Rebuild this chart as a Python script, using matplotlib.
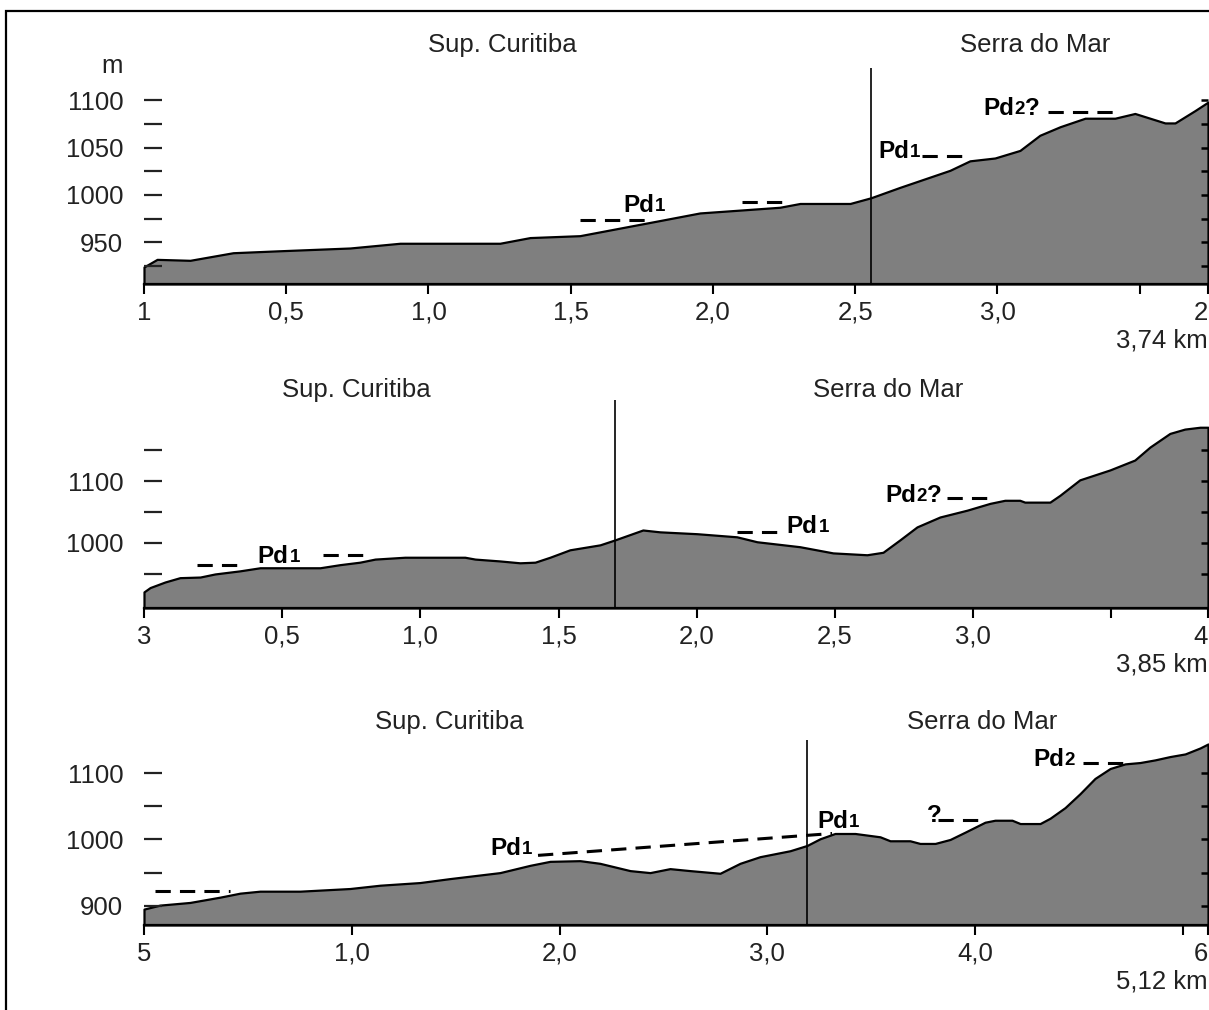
import matplotlib
matplotlib.use("Agg")
import matplotlib.pyplot as plt
from matplotlib.patches import Rectangle

plt.rcParams['font.family'] = ['Liberation Sans', 'DejaVu Sans']

# ---- profile 1 (3,74 km) ----
km1 = [0.000, 0.046, 0.162, 0.313, 0.471, 0.724, 0.900, 1.251, 1.357, 1.532,
       1.673, 1.814, 1.954, 2.095, 2.235, 2.306, 2.482, 2.555, 2.657, 2.833,
       2.903, 2.991, 3.079, 3.149, 3.220, 3.308, 3.413, 3.483, 3.536, 3.589,
       3.624, 3.694, 3.740]
elev1 = [924, 932, 931, 939, 941, 944, 949, 949, 955, 957,
         965, 973, 981, 984, 987, 991, 991, 997, 1008, 1026,
         1036, 1039, 1047, 1063, 1072, 1081, 1081, 1086, 1081, 1076,
         1076, 1089, 1098]

# ---- profile 2 (3,85 km) ----
km2 = [0.000, 0.022, 0.076, 0.130, 0.203, 0.257, 0.347, 0.420, 0.637, 0.709,
       0.781, 0.836, 0.944, 1.161, 1.198, 1.288, 1.360, 1.415, 1.469, 1.541,
       1.650, 1.704, 1.805, 1.867, 2.001, 2.145, 2.218, 2.373, 2.493, 2.616,
       2.674, 2.735, 2.797, 2.880, 2.978, 3.061, 3.115, 3.169, 3.187, 3.278,
       3.314, 3.386, 3.495, 3.585, 3.640, 3.712, 3.766, 3.821, 3.850]
elev2 = [921, 928, 937, 944, 945, 950, 955, 960, 960, 965,
         969, 974, 977, 977, 974, 971, 968, 969, 977, 989,
         997, 1005, 1021, 1018, 1015, 1010, 1002, 994, 984, 981,
         985, 1005, 1026, 1042, 1053, 1064, 1069, 1069, 1066, 1066,
         1077, 1102, 1118, 1134, 1155, 1177, 1184, 1187, 1187]

# ---- profile 3 (5,12 km) ----
km3 = [0.000, 0.077, 0.221, 0.366, 0.462, 0.558, 0.751, 0.991, 1.136, 1.328,
       1.473, 1.713, 1.858, 1.954, 2.098, 2.194, 2.339, 2.435, 2.531, 2.628,
       2.772, 2.868, 2.964, 3.109, 3.191, 3.253, 3.325, 3.422, 3.542, 3.590,
       3.686, 3.734, 3.807, 3.879, 3.951, 4.047, 4.095, 4.177, 4.216, 4.312,
       4.360, 4.432, 4.504, 4.576, 4.649, 4.721, 4.793, 4.865, 4.937, 5.010,
       5.082, 5.120]
elev3 = [895, 901, 905, 913, 919, 922, 922, 926, 931, 935,
         941, 950, 961, 967, 968, 964, 953, 950, 956, 953,
         949, 964, 974, 983, 991, 1001, 1009, 1009, 1004, 998,
         998, 994, 994, 1000, 1011, 1026, 1029, 1029, 1024, 1024,
         1032, 1048, 1069, 1092, 1107, 1114, 1116, 1120, 1125, 1129,
         1138, 1144]

# axis ranges
ylim1 = (906, 1134)
ylim2 = (895, 1231)
ylim3 = (871, 1150)
length1, length2, length3 = 3.74, 3.85, 5.12
total1, total2, total3 = "3,74 km", "3,85 km", "5,12 km"

# x ticks and labels
xt1 = [0, 0.5, 1.0, 1.5, 2.0, 2.5, 3.0, 3.5, 3.74]
xl1 = ["1", "0,5", "1,0", "1,5", "2,0", "2,5", "3,0", "", "2"]
xt2 = [0, 0.5, 1.0, 1.5, 2.0, 2.5, 3.0, 3.5, 3.85]
xl2 = ["3", "0,5", "1,0", "1,5", "2,0", "2,5", "3,0", "", "4"]
xt3 = [0, 1, 2, 3, 4, 5, 5.12]
xl3 = ["5", "1,0", "2,0", "3,0", "4,0", "", "6"]

# y ticks and labels
yt1 = [925, 950, 975, 1000, 1025, 1050, 1075, 1100]
yl1 = ["", "950", "", "1000", "", "1050", "", "1100"]
yt2 = [950, 1000, 1050, 1100, 1150]
yl2 = ["", "1000", "", "1100", ""]
yt3 = [900, 950, 1000, 1050, 1100]
yl3 = ["900", "", "1000", "", "1100"]

# boundary between Sup. Curitiba and Serra do Mar (km)
limit1, limit2, limit3 = 2.555, 1.704, 3.191

# region names: (x centre km, name)
regions1 = [(1.258, "Sup. Curitiba"), (3.132, "Serra do Mar")]
regions2 = [(0.768, "Sup. Curitiba"), (2.692, "Serra do Mar")]
regions3 = [(1.468, "Sup. Curitiba"), (4.033, "Serra do Mar")]

# planation surface levels: (x0, x1, y0, y1)
levels1 = [(1.532, 1.786, 973.6, 973.6), (2.102, 2.271, 992.6, 992.6),
           (2.735, 2.875, 1041, 1041), (3.178, 3.431, 1088, 1088)]
levels2 = [(0.192, 0.347, 964.5, 964.5), (0.648, 0.807, 980.6, 980.6),
           (2.145, 2.301, 1017.7, 1017.7), (2.905, 3.061, 1072.6, 1072.6)]
levels3 = [(0.053, 0.414, 921.8, 921.8), (1.896, 3.311, 976, 1009),
           (3.821, 4.033, 1028.6, 1028.6), (4.519, 4.711, 1115.8, 1115.8)]

# level labels: (x km, baseline m, text, index, suffix)
tags1 = [(1.684, 982, "Pd", "1", ""), (2.58, 1039, "Pd", "1", ""),
         (2.95, 1084, "Pd", "2", "?")]
tags2 = [(0.412, 968, "Pd", "1", ""), (2.326, 1016, "Pd", "1", ""),
         (2.681, 1066, "Pd", "2", "?")]
tags3 = [(1.665, 976, "Pd", "1", ""), (3.239, 1017, "Pd", "1", ""),
         (3.768, 1026, "?", "", ""), (4.278, 1111, "Pd", "2", "")]

W, H = 1209, 1010
FS = 18.5


def pd_label(ax, x, y, main, num, tail):
    t = ax.text(x, y, main, fontsize=17.5, fontweight='bold', va='baseline', ha='left')
    if num:
        t = ax.annotate(num, xy=(1, 0), xycoords=t, xytext=(0.5, 1.5),
                        textcoords='offset points', fontsize=13.5,
                        fontweight='bold', va='bottom', ha='left')
    if tail:
        ax.annotate(tail, xy=(1, 0), xycoords=t, xytext=(0, -1.5),
                    textcoords='offset points', fontsize=17.5,
                    fontweight='bold', va='bottom', ha='left')


def panel(fig, rect, km, elev, ylim, length, total, xt, xl, yt, yl,
          limit, regions, levels, tags, title_y, unit=False):
    ax = fig.add_axes(rect)
    ax.set_xlim(0, length)
    ax.set_ylim(*ylim)
    ax.fill_between(km, elev, ylim[0], facecolor='#7f7f7f', edgecolor='black',
                    linewidth=1.6, clip_on=False, zorder=1)
    ax.axvline(limit, color='black', linewidth=1.2, zorder=2)
    for x0, x1, y0, y1 in levels:
        ax.plot([x0, x1], [y0, y1], color='black', linewidth=2.2,
                linestyle=(0, (5, 3)), solid_capstyle='butt', zorder=3)
    for x, y, main, num, tail in tags:
        pd_label(ax, x, y, main, num, tail)
    for x, name in regions:
        ax.text(x, title_y, name, transform=ax.get_xaxis_transform(),
                fontsize=FS, ha='center', va='baseline', color='#222222')

    for s in ax.spines.values():
        s.set_visible(False)
    ax.spines['bottom'].set_visible(True)
    ax.spines['bottom'].set_linewidth(1.6)

    ax.set_xticks(xt)
    ax.set_xticklabels(xl)
    ax.get_xticklabels()[-1].set_horizontalalignment('right')
    ax.tick_params(axis='x', direction='out', length=7, width=1.5,
                   labelsize=FS, pad=5, labelcolor='#222222')
    ax.set_yticks(yt)
    ax.set_yticklabels(yl)
    ax.tick_params(axis='y', direction='in', length=13, width=1.6,
                   labelsize=FS, pad=15, labelcolor='#222222', color='#222222')

    axr = ax.twinx()
    axr.set_ylim(*ylim)
    axr.set_yticks(yt)
    axr.set_yticklabels([])
    axr.tick_params(axis='y', direction='in', length=5, width=1.8, color='black')
    for s in axr.spines.values():
        s.set_visible(False)

    ax.annotate(total, xy=(1, 0), xycoords='axes fraction', xytext=(0, -46),
                textcoords='offset points', ha='right', va='baseline',
                fontsize=FS, color='#222222')
    if unit:
        ax.text(-0.02, 0.977, "m", transform=ax.transAxes, ha='right',
                va='baseline', fontsize=FS, color='#222222')
    return ax


fig = plt.figure(figsize=(W / 100, H / 100), dpi=100)
left, width = 144 / W, 1064 / W

panel(fig, [left, 1 - 284 / H, width, 216 / H], km1, elev1, ylim1, length1, total1,
      xt1, xl1, yt1, yl1, limit1, regions1, levels1, tags1, 1.074, unit=True)
panel(fig, [left, 1 - 608 / H, width, 208 / H], km2, elev2, ylim2, length2, total2,
      xt2, xl2, yt2, yl2, limit2, regions2, levels2, tags2, 1.014)
panel(fig, [left, 1 - 925 / H, width, 185 / H], km3, elev3, ylim3, length3, total3,
      xt3, xl3, yt3, yl3, limit3, regions3, levels3, tags3, 1.059)

# picture frame
fig.add_artist(Rectangle((6 / W, -0.1), 2, 1 - 11 / H + 0.1, transform=fig.transFigure,
                         fill=False, edgecolor='black', linewidth=1.6))

fig.savefig("out.png", dpi=100)
